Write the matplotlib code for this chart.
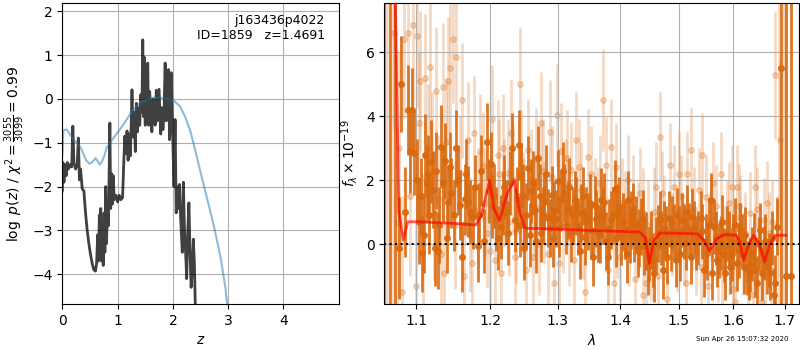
import matplotlib
matplotlib.use('Agg')
import matplotlib.pyplot as plt
from matplotlib.ticker import FixedLocator, NullLocator, FormatStrFormatter

# ---- left panel: log p(z) and the prior-like smooth curve
z_pz = [0.0, 0.01, 0.03, 0.05, 0.07, 0.09, 0.11, 0.14, 0.17, 0.19,
        0.21, 0.24, 0.27, 0.29, 0.31, 0.33, 0.36, 0.39, 0.42, 0.45,
        0.48, 0.51, 0.54, 0.57, 0.60, 0.62, 0.64, 0.655, 0.67, 0.68,
        0.695, 0.71, 0.725, 0.74, 0.755, 0.77, 0.785, 0.80, 0.815, 0.83,
        0.845, 0.86, 0.875, 0.89, 0.905, 0.92, 0.94, 0.97, 1.0, 1.03,
        1.06, 1.09, 1.11, 1.13, 1.15, 1.17, 1.19, 1.21, 1.23, 1.25,
        1.26, 1.28, 1.30, 1.32, 1.34, 1.36, 1.38, 1.40, 1.42, 1.44,
        1.455, 1.47, 1.485, 1.50, 1.515, 1.53, 1.545, 1.56, 1.58, 1.60,
        1.62, 1.64, 1.66, 1.68, 1.70, 1.72, 1.75, 1.78, 1.80, 1.82,
        1.84, 1.86, 1.88, 1.90, 1.92, 1.94, 1.96, 1.97, 2.0, 2.02,
        2.04, 2.06, 2.08, 2.10, 2.12, 2.14, 2.17, 2.19, 2.21, 2.23,
        2.25, 2.27, 2.29, 2.31, 2.33, 2.35, 2.37, 2.39, 2.41, 2.43]
logp_pz = [-2.1, -1.45, -1.9, -1.5, -1.75, -1.45, -1.6, -1.5, -1.55, -0.62,
           -1.45, -1.6, -1.5, -0.89, -1.85, -1.6, -2.05, -2.1, -2.6, -3.0,
           -3.3, -3.55, -3.75, -3.9, -3.93, -3.75, -3.1, -3.7, -2.65, -3.6,
           -2.5, -3.7, -3.0, -3.8, -2.6, -3.5, -2.0, -3.3, -2.4, -2.9,
           -1.9, -0.55, -2.5, -1.7, -2.4, -1.75, -2.3, -2.2, -2.35, -2.2,
           -2.3, -2.25, -1.5, -0.85, -1.25, -0.73, -1.4, -0.8, -1.3, -0.4,
           0.21, -0.87, -0.3, -1.2, -0.1, -0.75, -0.2, -0.6, 0.1, -0.3,
           1.35, -0.4, 0.95, -0.6, 0.75, -0.2, 0.82, -0.6, 0.17, -0.3,
           -0.75, 0.0, -0.4, -0.6, 0.2, -0.5, 0.22, -0.8, -0.2, -0.7,
           -0.3, 0.82, -0.5, -0.1, 0.67, -0.93, -0.3, 0.6, -1.0, -2.0,
           -0.47, -2.6, -2.0, -2.5, -1.95, -2.7, -3.5, -1.9, -3.0, -3.5,
           -4.1, -3.0, -2.37, -3.5, -4.3, -3.9, -3.2, -3.8, -5.0, -6.0]

z_prior = [0.0, 0.02, 0.05, 0.08, 0.11, 0.16, 0.22, 0.27, 0.33, 0.38,
           0.43, 0.49, 0.53, 0.57, 0.60, 0.64, 0.68, 0.72, 0.76, 0.80,
           0.86, 0.95, 1.04, 1.16, 1.28, 1.41, 1.53, 1.65, 1.77, 1.89,
           2.01, 2.13, 2.22, 2.32, 2.41, 2.50, 2.62, 2.74, 2.86, 2.95, 3.0]
logp_prior = [-1.3, -0.72, -0.7, -0.7, -0.75, -0.85, -0.95, -1.0, -1.1, -1.25,
              -1.4, -1.48, -1.45, -1.4, -1.35, -1.42, -1.5, -1.42, -1.3, -1.12,
              -1.0, -0.85, -0.7, -0.48, -0.24, -0.09, -0.02, 0.03, 0.03, 0.0,
              -0.03, -0.17, -0.4, -0.75, -1.2, -1.67, -2.28, -2.89, -3.6, -4.3, -4.9]

# ---- right panel: spectrum (microns, flux x 1e-19)
# first set of strong (dark) points
wave_dark = [1.0593, 1.0662, 1.0730, 1.0776, 1.0808, 1.0890, 1.0922, 1.0968, 1.1041, 1.1073,
             1.1119, 1.1151, 1.1187, 1.1242, 1.1279, 1.1324, 1.1384, 1.1416, 1.1462, 1.1530,
             1.1576, 1.1654, 1.1690, 1.1759, 1.1827, 1.1873, 1.1955, 1.1986, 1.2035, 1.2084,
             1.2158, 1.2207, 1.2256, 1.2320, 1.2355, 1.2414, 1.2454, 1.2493, 1.2552, 1.2601,
             1.2651, 1.2700, 1.2749, 1.2798, 1.2847, 1.2906, 1.2946, 1.3005, 1.3048, 1.3101,
             1.3154, 1.3207, 1.3261, 1.3314, 1.3367, 1.3420, 1.3473, 1.3527, 1.3580, 1.3633,
             1.3686, 1.3739, 1.3793, 1.3846, 1.3910, 1.3952, 1.4006, 1.4074, 1.4131, 1.4176,
             1.4233, 1.4290, 1.4346, 1.4403, 1.4460, 1.4517, 1.4574, 1.4630, 1.4676, 1.4716,
             1.4772, 1.4829, 1.4886, 1.4943, 1.5000, 1.5061, 1.5121, 1.5182, 1.5242, 1.5303,
             1.5394, 1.5455, 1.5515, 1.5576, 1.5636, 1.5697, 1.5758, 1.5818, 1.5879, 1.5939,
             1.6000, 1.6065, 1.6130, 1.6195, 1.6260, 1.6325, 1.6389, 1.6454, 1.6519, 1.6584,
             1.6649, 1.6714, 1.6779, 1.6844, 1.6935, 1.7030, 1.7128]
flux_dark = [9.0, 9.0, 9.0, -0.12, 5.0, 4.2, 2.9, 2.85, 0.68, -0.28,
             2.78, 2.2, 2.58, -0.12, -0.2, 3.05, 2.6, 1.33, 1.6, 3.0,
             1.23, 1.4, 1.33, 0.86, -0.07, 2.3, 3.2, 1.65, 1.18, 0.8,
             0.55, 1.8, 0.34, 3.0, 0.76, 3.1, 2.17, -0.12, 2.38, 1.65,
             1.07, 2.7, 0.34, 1.33, 0.81, 1.54, 1.07, 1.96, 1.4, 1.6,
             1.07, 0.34, 1.39, 0.55, 0.97, 0.24, 0.71, 0.45, 1.23, 0.34,
             1.39, 1.33, -0.39, 0.76, 1.72, 0.97, 0.24, 0.45, 1.39, 0.76,
             0.34, -0.12, 0.55, -0.07, -0.7, 0.13, -0.9, 0.34, 0.76, -0.8,
             0.34, 0.81, 0.66, -0.49, 0.34, 0.76, 0.03, 0.45, 0.86, 0.03,
             0.81, -0.8, -0.28, 1.39, 0.55, -0.49, 0.03, -0.33, 0.34, -0.7,
             0.08, -0.6, 0.45, -0.7, -0.75, -0.65, 0.13, -1.22, 0.45, -0.28,
             -0.7, -0.9, -1.6, 0.55, 5.5, -1.0, -1.0]
err_dark = [20, 20, 20, 1.6, 1.5, 1.4, 1.3, 1.3, 1.3, 1.2,
            1.3, 1.2, 1.3, 1.2, 1.2, 1.3, 1.2, 1.1, 1.1, 1.2,
            1.1, 1.1, 1.1, 1.0, 1.1, 1.1, 1.2, 1.0, 1.0, 1.0,
            1.0, 1.0, 1.0, 1.1, 1.0, 1.1, 1.0, 1.0, 1.0, 1.0,
            1.0, 1.0, 0.9, 0.9, 0.9, 0.9, 0.9, 1.0, 0.9, 0.9,
            0.9, 0.9, 0.9, 0.9, 0.9, 0.9, 0.9, 0.9, 0.9, 0.9,
            1.0, 0.9, 0.9, 0.9, 0.9, 0.9, 0.9, 0.9, 0.9, 0.9,
            0.9, 0.9, 0.9, 0.9, 0.9, 0.9, 0.9, 0.9, 0.9, 0.9,
            0.85, 0.85, 0.85, 0.85, 0.85, 0.85, 0.85, 0.85, 0.85, 0.85,
            0.85, 0.85, 0.85, 0.85, 0.85, 0.85, 0.85, 0.85, 0.85, 0.85,
            0.85, 0.85, 0.85, 0.85, 0.85, 0.85, 0.85, 0.85, 0.85, 0.85,
            0.85, 0.85, 0.85, 0.9, 15, 15, 15]

# second (interleaved) set of dark points
wave_dark2 = [1.0850, 1.0945, 1.1005, 1.1057, 1.1096, 1.1135, 1.1170, 1.1215, 1.1260, 1.1300,
              1.1355, 1.1400, 1.1440, 1.1495, 1.1553, 1.1615, 1.1672, 1.1725, 1.1793, 1.1850,
              1.1915, 1.2010, 1.2060, 1.2120, 1.2180, 1.2230, 1.2290, 1.2385, 1.2434, 1.2473,
              1.2522, 1.2576, 1.2626, 1.2675, 1.2725, 1.2773, 1.2822, 1.2876, 1.2926, 1.2975,
              1.3027, 1.3075, 1.3128, 1.3180, 1.3234, 1.3288, 1.3340, 1.3394, 1.3447, 1.3500,
              1.3553, 1.3607, 1.3660, 1.3712, 1.3766, 1.3820, 1.3878, 1.3930, 1.3980, 1.4040,
              1.4103, 1.4154, 1.4205, 1.4262, 1.4318, 1.4375, 1.4432, 1.4488, 1.4545, 1.4602,
              1.4696, 1.4744, 1.4800, 1.4858, 1.4915, 1.4972, 1.5030, 1.5091, 1.5152, 1.5212,
              1.5273, 1.5350, 1.5424, 1.5485, 1.5545, 1.5606, 1.5667, 1.5727, 1.5788, 1.5848,
              1.5909, 1.5970, 1.6032, 1.6098, 1.6162, 1.6228, 1.6292, 1.6357, 1.6422, 1.6486,
              1.6551, 1.6616, 1.6681, 1.6746, 1.6811]
flux_dark2 = [1.0, 4.2, 2.0, 1.5, 0.3, 1.9, 0.9, 1.7, 2.3, 0.6,
              1.9, 0.2, 2.4, 0.9, 2.0, -0.4, 2.2, 1.0, 1.8, 0.9,
              0.1, 2.5, 1.5, 0.2, 1.3, 1.0, 1.9, 1.4, 0.6, 1.5,
              0.9, 0.3, 1.9, 0.1, 1.5, 0.9, 2.2, 0.5, 0.2, 0.8,
              0.5, 2.3, 0.6, 1.8, 0.9, 1.2, -0.2, 1.5, 0.9, 1.3,
              -0.4, 0.8, 0.3, 0.9, 0.1, 0.5, 0.9, 0.2, 1.2, 0.7,
              -0.3, 0.3, 1.0, 0.6, 0.2, 0.8, 0.1, -0.3, -0.5, 0.0,
              0.2, 0.5, -0.4, 0.0, 0.4, 0.9, -0.3, 0.4, 1.0, -0.4,
              0.5, 0.2, 0.4, 0.1, 0.6, -0.9, 0.2, -0.2, 0.7, -0.9,
              0.2, -0.3, 0.6, -0.2, 0.1, 0.3, -0.9, -0.3, -0.8, 0.0,
              -0.9, 0.1, -0.5, 0.2, -1.2]
err_dark2 = [1.4, 1.3, 1.3, 1.2, 1.2, 1.2, 1.2, 1.2, 1.2, 1.2,
             1.2, 1.1, 1.1, 1.1, 1.1, 1.1, 1.1, 1.0, 1.0, 1.0,
             1.0, 1.0, 1.0, 1.0, 1.0, 1.0, 1.0, 1.0, 1.0, 1.0,
             1.0, 1.0, 1.0, 1.0, 1.0, 0.9, 0.9, 0.9, 0.9, 0.9,
             0.9, 0.9, 0.9, 0.9, 0.9, 0.9, 0.9, 0.9, 0.9, 0.9,
             0.9, 0.9, 0.9, 0.9, 0.9, 0.9, 0.9, 0.9, 0.9, 0.9,
             0.9, 0.9, 0.9, 0.9, 0.9, 0.9, 0.9, 0.85, 0.85, 0.85,
             0.85, 0.85, 0.85, 0.85, 0.85, 0.85, 0.85, 0.85, 0.85, 0.85,
             0.85, 0.85, 0.85, 0.85, 0.85, 0.85, 0.85, 0.85, 0.85, 0.85,
             0.85, 0.85, 0.85, 0.85, 0.85, 0.85, 0.85, 0.85, 0.85, 0.85,
             0.85, 0.85, 0.85, 0.85, 0.85]

# weak (light) points
wave_light = [1.0630, 1.0695, 1.0708, 1.0753, 1.0845, 1.0890, 1.0959, 1.0995, 1.1005, 1.1050,
              1.1119, 1.1178, 1.1210, 1.1230, 1.1279, 1.1347, 1.1370, 1.1416, 1.1452, 1.1484,
              1.1530, 1.1576, 1.1644, 1.1690, 1.1720, 1.1781, 1.1827, 1.1900, 1.1963, 1.2035,
              1.2070, 1.2108, 1.2158, 1.2207, 1.2256, 1.2306, 1.2355, 1.2380, 1.2429, 1.2478,
              1.2520, 1.2552, 1.2626, 1.2675, 1.2710, 1.2749, 1.2798, 1.2887, 1.2946, 1.2985,
              1.3020, 1.3048, 1.3128, 1.3180, 1.3207, 1.3287, 1.3367, 1.3420, 1.3473, 1.3580,
              1.3630, 1.3713, 1.3766, 1.3846, 1.3890, 1.3952, 1.4034, 1.4119, 1.4150, 1.4204,
              1.4290, 1.4375, 1.4380, 1.4432, 1.4517, 1.4560, 1.4602, 1.4676, 1.4744, 1.4800,
              1.4847, 1.4915, 1.4970, 1.5000, 1.5091, 1.5152, 1.5212, 1.5270, 1.5303, 1.5424,
              1.5485, 1.5530, 1.5576, 1.5667, 1.5758, 1.5790, 1.5849, 1.5909, 1.5970, 1.6000,
              1.6065, 1.6130, 1.6190, 1.6227, 1.6325, 1.6370, 1.6422, 1.6506, 1.6584, 1.6610,
              1.6681, 1.6740, 1.6811, 1.6880, 1.6909, 1.6990]
flux_light = [9.0, 9.0, 6.6, 0.65, 6.4, 6.6, 6.85, -1.3, 6.5, 5.1,
              5.2, 5.55, 2.75, 0.9, 1.4, 4.9, -0.9, 5.1, 5.5, 6.4,
              5.85, 2.22, -1.0, 3.26, 0.3, 3.47, 1.07, 2.43, 0.34, 3.9,
              -0.5, 2.8, -0.9, 1.6, 2.22, 3.47, -0.39, 0.4, 5.0, 1.28,
              -0.8, 2.95, -0.39, 2.65, 0.0, 3.78, 0.97, 3.52, -1.2, 4.04,
              -0.6, 2.9, 1.8, 0.2, 2.33, 3.26, 1.7, -1.5, 2.74, 1.18,
              0.9, 4.5, 2.48, 3.05, -1.2, 0.34, 1.28, 2.0, 0.1, 1.39,
              0.55, 0.97, -1.6, -1.22, -0.39, 1.0, 1.8, 3.36, 0.86, -1.7,
              2.48, 1.8, -0.2, 2.2, 0.03, 2.2, 2.95, 1.1, -0.28, 2.8,
              1.49, -1.3, 0.76, 1.18, 2.2, -0.9, -0.07, 1.28, 1.8, -1.4,
              1.8, 0.86, -0.3, 0.34, 0.97, -1.6, 1.8, -0.49, 0.76, -1.0,
              0.34, 0.7, 5.3, 9.0, 3.26, 9.0]
err_light = [20, 20, 3.0, 3.0, 2.5, 2.5, 2.5, 2.0, 2.2, 2.2,
             2.0, 2.0, 2.0, 2.0, 2.0, 2.0, 1.8, 2.0, 2.0, 2.0,
             2.0, 1.8, 1.8, 1.8, 1.8, 1.8, 1.8, 1.7, 1.7, 1.7,
             1.7, 1.7, 1.7, 1.7, 1.7, 1.7, 1.6, 1.6, 1.8, 1.6,
             1.6, 1.6, 1.6, 1.6, 1.6, 1.6, 1.6, 1.6, 1.5, 1.6,
             1.5, 1.5, 1.5, 1.5, 1.5, 1.5, 1.5, 1.5, 1.5, 1.5,
             1.5, 1.6, 1.5, 1.5, 1.4, 1.4, 1.4, 1.4, 1.4, 1.4,
             1.4, 1.4, 1.4, 1.4, 1.4, 1.4, 1.4, 1.4, 1.3, 1.3,
             1.3, 1.3, 1.3, 1.3, 1.3, 1.3, 1.3, 1.3, 1.3, 1.3,
             1.3, 1.3, 1.3, 1.3, 1.3, 1.3, 1.3, 1.3, 1.3, 1.3,
             1.3, 1.3, 1.3, 1.3, 1.3, 1.3, 1.3, 1.3, 1.3, 1.3,
             1.3, 1.3, 2.0, 20, 2.5, 20]

wave_light2 = [1.0780, 1.0815, 1.0920, 1.1030, 1.1085, 1.1150, 1.1260, 1.1320, 1.1395, 1.1510,
               1.1610, 1.1750, 1.1860, 1.1935, 1.2000, 1.2130, 1.2180, 1.2280, 1.2330, 1.2455,
               1.2500, 1.2590, 1.2650, 1.2770, 1.2850, 1.2910, 1.3080, 1.3150, 1.3250, 1.3330,
               1.3390, 1.3520, 1.3670, 1.3800, 1.3920, 1.3990, 1.4080, 1.4250, 1.4330, 1.4470,
               1.4640, 1.4700, 1.4880, 1.5040, 1.5120, 1.5240, 1.5360, 1.5400, 1.5620, 1.5710,
               1.5880, 1.6030, 1.6100, 1.6280, 1.6460, 1.6550, 1.6640, 1.6720, 1.6850]
flux_light2 = [3.0, -1.5, 1.5, 3.8, 0.0, 3.0, 4.8, -0.3, 3.2, 0.6,
               4.5, -0.6, 2.9, 1.3, -0.2, 2.2, 3.0, 0.7, 2.0, 2.6,
               0.9, 2.0, 1.2, 2.3, -0.3, 2.1, 0.6, 2.7, -0.5, 2.4,
               0.4, 2.2, 1.9, -0.8, 2.4, -0.4, 0.9, -1.1, 1.6, 0.6,
               -1.0, 1.6, 0.3, 1.5, -1.2, 0.5, 1.7, -0.7, 1.9, -0.5,
               0.7, -1.8, 1.2, -1.1, 1.1, -1.8, 1.3, -0.8, 0.2]
err_light2 = [3.0, 3.0, 2.5, 2.2, 2.2, 2.0, 2.0, 2.0, 2.0, 2.0,
              1.8, 1.8, 1.8, 1.7, 1.7, 1.7, 1.7, 1.7, 1.7, 1.6,
              1.6, 1.6, 1.6, 1.6, 1.6, 1.6, 1.5, 1.5, 1.5, 1.5,
              1.5, 1.5, 1.5, 1.4, 1.4, 1.4, 1.4, 1.4, 1.4, 1.4,
              1.4, 1.3, 1.3, 1.3, 1.3, 1.3, 1.3, 1.3, 1.3, 1.3,
              1.3, 1.3, 1.3, 1.3, 1.3, 1.3, 1.3, 1.3, 1.3]

# best-fit model
wave_model = [1.0725, 1.0775, 1.0790, 1.0831, 1.0890, 1.1000, 1.1500, 1.1800, 1.1880, 1.1993,
              1.2060, 1.2136, 1.2250, 1.2351, 1.2430, 1.2508, 1.3000, 1.3500, 1.4000, 1.4327,
              1.4420, 1.4486, 1.4560, 1.4670, 1.5000, 1.5351, 1.5460, 1.5553, 1.5678, 1.5800,
              1.5874, 1.6068, 1.6130, 1.6195, 1.6290, 1.6385, 1.6500, 1.6601, 1.6700, 1.6812,
              1.7024]
flux_model = [8.5, 1.0, 0.8, 0.13, 0.7, 0.7, 0.65, 0.6, 0.9, 2.0,
              1.1, 0.75, 1.6, 2.0, 1.0, 0.5, 0.47, 0.43, 0.4, 0.38,
              0.2, -0.6, 0.1, 0.35, 0.34, 0.32, 0.1, -0.2, 0.15, 0.28,
              0.3, 0.28, 0.0, -0.5, 0.0, 0.28, 0.0, -0.55, 0.0, 0.28,
              0.28]

wave_ticks = [1.1, 1.2, 1.3, 1.4, 1.5, 1.6, 1.7]
orange = '#d9690f'

fig = plt.figure(figsize=(8, 3.5), dpi=100)

# left: p(z)
ax1 = fig.add_axes([0.0779, 0.1314, 0.3455, 0.86])
ax1.plot(z_pz, logp_pz, color='k', alpha=0.75, lw=2)
ax1.plot(z_prior, logp_prior, color='tab:blue', alpha=0.5, lw=1.5)
ax1.set_xlim(0, 5.0)
ax1.set_ylim(-4.68, 2.19)
ax1.set_xticks([0, 1, 2, 3, 4])
ax1.set_yticks([-4, -3, -2, -1, 0, 1, 2])
ax1.grid()
ax1.set_xlabel(r'$z$')
ax1.set_ylabel(r'$\log\ p(z)$ / $\chi^2=\frac{3055}{3099}=0.99$')
ax1.text(0.95, 0.965, 'j163436p4022\nID=1859   z=1.4691', ha='right', va='top',
         transform=ax1.transAxes, fontsize=9)

# right: spectrum
ax2 = fig.add_axes([0.4804, 0.1314, 0.5187, 0.86])
ax2.errorbar(wave_light + wave_light2, flux_light + flux_light2, yerr=err_light + err_light2,
             fmt='o', color=orange, alpha=0.25, ms=4, elinewidth=2, capsize=0, zorder=1)
ax2.errorbar(wave_dark + wave_dark2, flux_dark + flux_dark2, yerr=err_dark + err_dark2,
             fmt='o', color=orange, alpha=0.9, ms=4, elinewidth=2, capsize=0, zorder=2)
ax2.plot(wave_model, flux_model, color='red', alpha=0.65, lw=2, zorder=3)
ax2.axhline(0, color='k', ls=':', lw=1.5, zorder=4)
ax2.set_xscale('log')
ax2.set_xlim(1.0592, 1.7295)
ax2.set_ylim(-1.87, 7.54)
ax2.xaxis.set_major_locator(FixedLocator(wave_ticks))
ax2.xaxis.set_major_formatter(FormatStrFormatter('%.1f'))
ax2.xaxis.set_minor_locator(NullLocator())
ax2.set_yticks([0, 2, 4, 6])
ax2.grid()
ax2.set_xlabel(r'$\lambda$')
ax2.set_ylabel(r'$f_\lambda\times10^{-19}$')

fig.text(0.985, 0.03, 'Sun Apr 26 15:07:32 2020', ha='right', va='center', fontsize=5)

fig.savefig('out.png', dpi=100)
